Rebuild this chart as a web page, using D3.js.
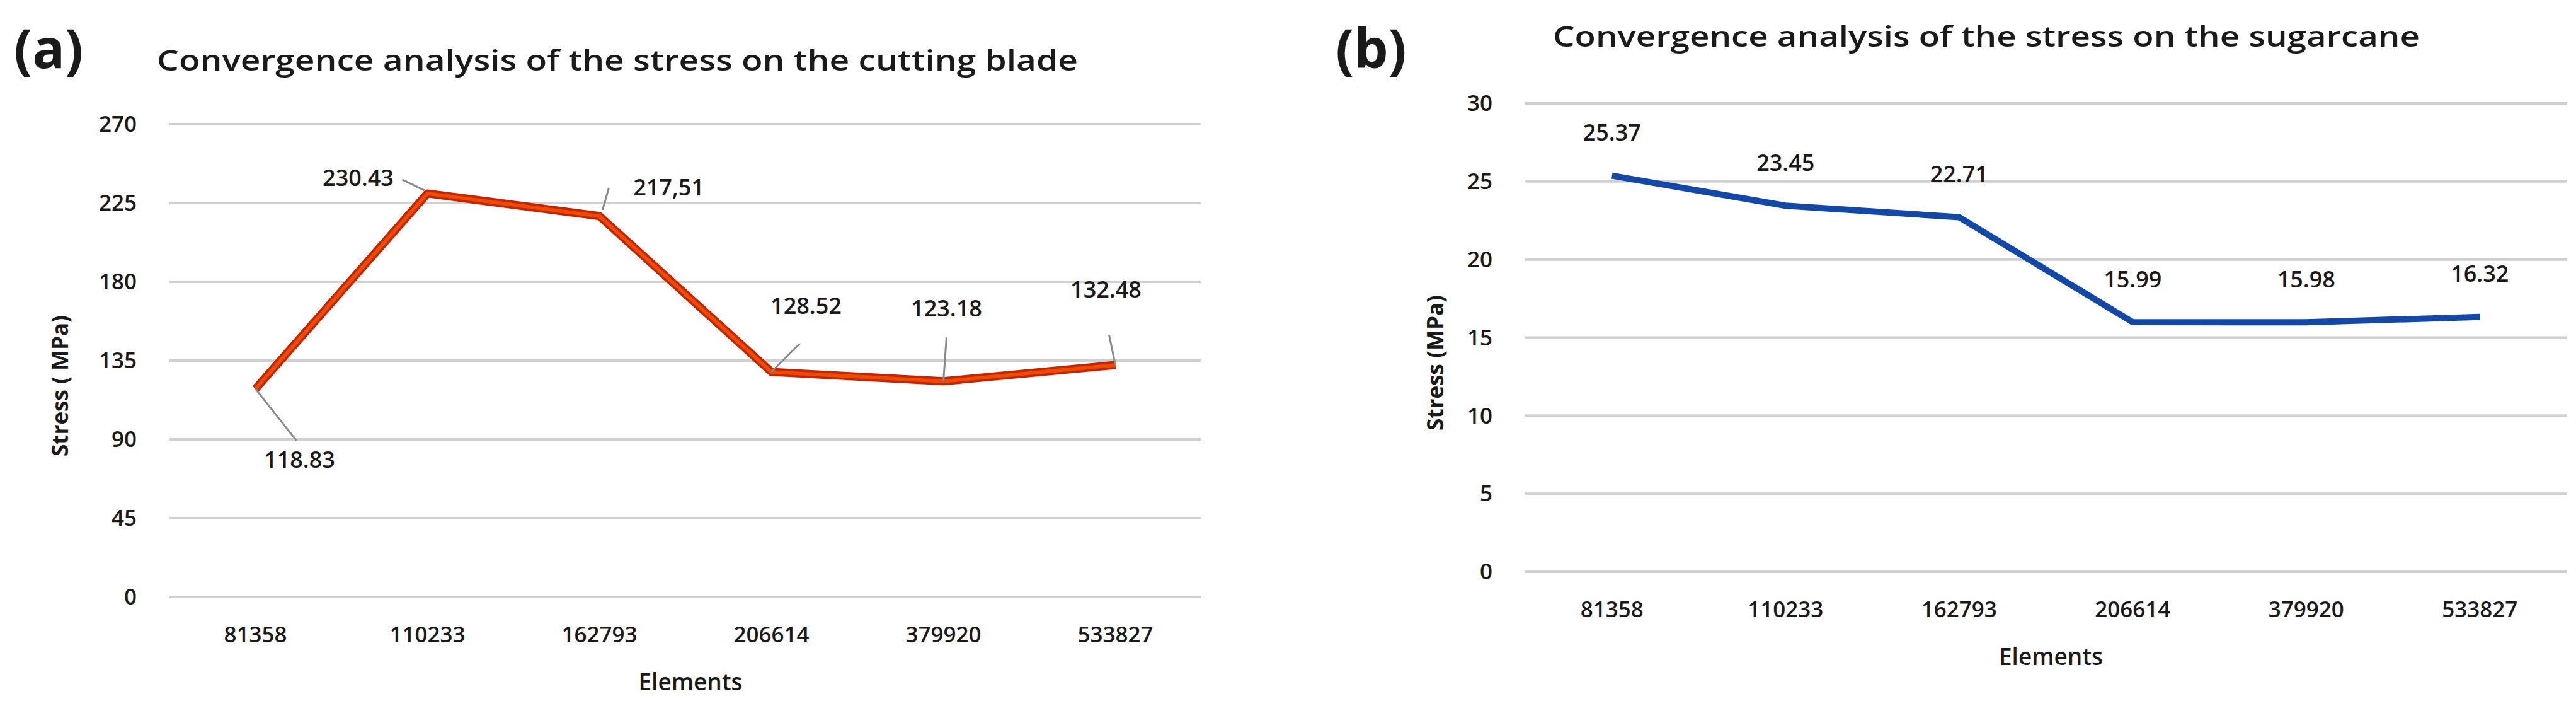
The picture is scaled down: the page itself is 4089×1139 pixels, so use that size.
<!DOCTYPE html>
<html>
<head>
<meta charset="utf-8">
<script src="https://cdn.jsdelivr.net/npm/d3@7"></script>
<style>
  body { margin: 0; background: #fff; }
  text { font-family: "Open Sans", "Noto Sans", sans-serif; fill: #1a1a1a; }
</style>
</head>
<body>
<script>
// Data
const elements = ["81358", "110233", "162793", "206614", "379920", "533827"];
const bladeStress = [118.83, 230.43, 217.51, 128.52, 123.18, 132.48];
const bladeLabels = ["118.83", "230.43", "217,51", "128.52", "123.18", "132.48"];
const caneStress = [25.37, 23.45, 22.71, 15.99, 15.98, 16.32];
const caneLabels = ["25.37", "23.45", "22.71", "15.99", "15.98", "16.32"];
const bladeTicks = [0, 45, 90, 135, 180, 225, 270];
const caneTicks = [0, 5, 10, 15, 20, 25, 30];

// Label placement for panel (a): [text dx, text dy, leader start dx, dy, leader end dx, dy]
const bladeCallouts = [
    [70, 112, 0, 0, 65, 82],
    [-110, -25, -5, -5, -40, -22],
    [110, -45, 5, -10, 15, -45],
    [55, -105, 0, 0, 45, -45],
    [5, -115, 0, 0, 5, -70],
    [-15, -120, 0, 0, -10, -48]
];

const W = 4089, H = 1139;
const svg = d3.select("body").append("svg")
    .attr("width", W).attr("height", H);

function drawPanel(cfg) {
    const g = svg.append("g");
    const x = d3.scalePoint().domain(elements).range([cfg.x0, cfg.x1]).padding(0.5);
    const y = d3.scaleLinear().domain([0, d3.max(cfg.ticks)]).range([cfg.y0, cfg.y1]);

    // Grid
    g.selectAll(".grid").data(cfg.ticks).enter().append("line")
        .attr("x1", cfg.x0).attr("x2", cfg.x1)
        .attr("y1", d => y(d)).attr("y2", d => y(d))
        .attr("stroke", "#d0d0d0").attr("stroke-width", 4);

    // Y tick labels
    g.selectAll(".ytick").data(cfg.ticks).enter().append("text")
        .attr("x", cfg.x0 - 52).attr("y", d => y(d)).attr("dy", "0.35em")
        .attr("text-anchor", "end").attr("font-size", 35).attr("font-weight", 600)
        .text(d => d);

    // X tick labels
    g.selectAll(".xtick").data(elements).enter().append("text")
        .attr("x", d => x(d)).attr("y", cfg.y0 + 60).attr("dy", "0.35em")
        .attr("text-anchor", "middle").attr("font-size", 35).attr("font-weight", 600)
        .text(d => d);

    // Axis titles
    g.append("text").attr("x", (cfg.x0 + cfg.x1) / 2 + 8).attr("y", cfg.y0 + 148)
        .attr("text-anchor", "middle").attr("font-size", 37).attr("font-weight", 600).text("Elements");
    g.append("text")
        .attr("transform", `translate(${cfg.ylabX},${(cfg.y0 + cfg.y1) / 2 + 40}) rotate(-90)`)
        .attr("text-anchor", "middle").attr("font-size", 35).attr("font-weight", 700)
        .text(cfg.ylabel);

    // Titles
    g.append("text").attr("x", cfg.titleX).attr("y", cfg.titleY)
        .attr("font-size", 46).attr("font-weight", 600)
        .attr("textLength", cfg.titleLen).attr("lengthAdjust", "spacingAndGlyphs")
        .text(cfg.title);
    g.append("text").attr("x", cfg.tagX).attr("y", 108)
        .attr("font-size", 86).attr("font-weight", 700).text(cfg.tag);

    // Line
    const line = d3.line().x((d, i) => x(elements[i])).y(d => y(d));
    g.append("path").datum(cfg.values)
        .attr("d", line).attr("fill", "none")
        .attr("stroke", cfg.color).attr("stroke-width", cfg.width)
        .attr("stroke-linejoin", "round");
    if (cfg.inner) {
        g.append("path").datum(cfg.values)
            .attr("d", line).attr("fill", "none")
            .attr("stroke", cfg.inner).attr("stroke-width", cfg.width * 0.45)
            .attr("stroke-linejoin", "round");
    }

    // Data labels
    cfg.values.forEach((v, i) => {
        const px = x(elements[i]), py = y(v);
        const c = cfg.callouts ? cfg.callouts[i] : [0, -68];
        if (cfg.callouts) {
            g.append("line")
                .attr("x1", px + c[2]).attr("y1", py + c[3])
                .attr("x2", px + c[4]).attr("y2", py + c[5])
                .attr("stroke", "#8a8a8a").attr("stroke-width", 3);
        }
        g.append("text").attr("x", px + c[0]).attr("y", py + c[1]).attr("dy", "0.35em")
            .attr("text-anchor", "middle").attr("font-size", 36).attr("font-weight", 600)
            .text(cfg.labels[i]);
    });
}

drawPanel({
    x0: 269, x1: 1907, y0: 947, y1: 197, ticks: bladeTicks,
    values: bladeStress, labels: bladeLabels, callouts: bladeCallouts,
    color: "#c42400", inner: "#ee4a00", width: 13,
    ylabel: "Stress ( MPa)", ylabX: 108,
    title: "Convergence analysis of the stress on the cutting blade",
    titleX: 249, titleY: 112, titleLen: 1462, tag: "(a)", tagX: 22
});

drawPanel({
    x0: 2421, x1: 4074, y0: 907, y1: 164, ticks: caneTicks,
    values: caneStress, labels: caneLabels,
    color: "#1448a8", width: 10,
    ylabel: "Stress (MPa)", ylabX: 2291,
    title: "Convergence analysis of the stress on the sugarcane",
    titleX: 2465, titleY: 74, titleLen: 1376, tag: "(b)", tagX: 2120
});
</script>
</body>
</html>
